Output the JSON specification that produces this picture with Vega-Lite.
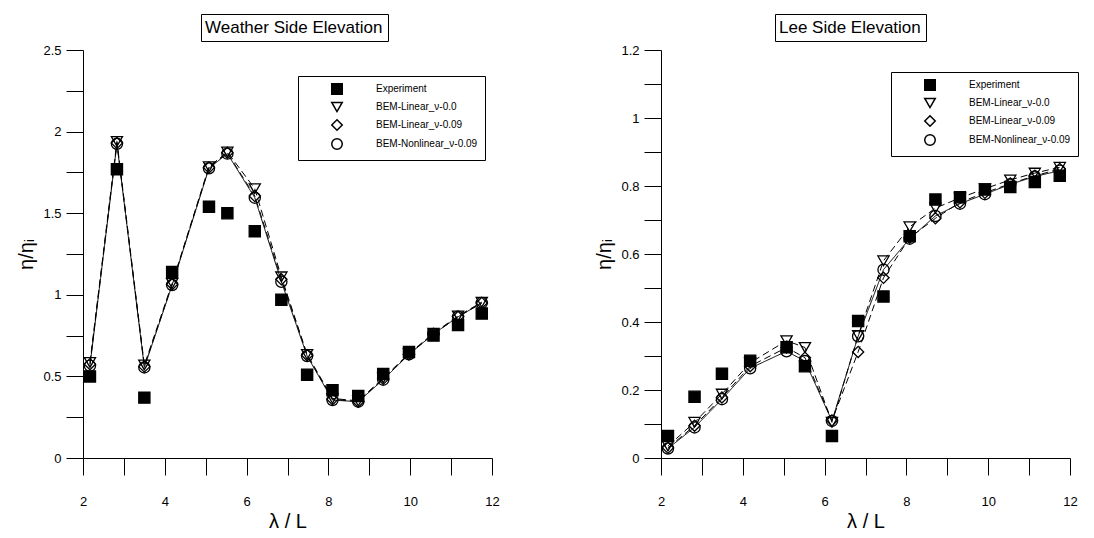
{
  "$schema": "https://vega.github.io/schema/vega-lite/v6.json",
  "padding": {"left": 16, "top": 13, "right": 5, "bottom": 0},
  "spacing": 94,
  "config": {
    "view": {"stroke": null},
    "axis": {"grid": false, "domainColor": "black", "tickColor": "black", "labelColor": "black", "titleColor": "black", "labelFont": "Liberation Sans", "titleFont": "Liberation Sans", "labelFontSize": 13, "titleFontSize": 20, "titleFontWeight": "normal", "labelFlush": false, "labelOverlap": false, "domainWidth": 1, "tickWidth": 1, "tickSize": 17}
  },
  "datasets": {
    "weather": [
      {"x": 2.17, "y": 0.5, "series": "Experiment"}, {"x": 2.83, "y": 1.77, "series": "Experiment"}, {"x": 3.5, "y": 0.37, "series": "Experiment"}, {"x": 4.18, "y": 1.14, "series": "Experiment"}, {"x": 5.08, "y": 1.54, "series": "Experiment"}, {"x": 5.53, "y": 1.5, "series": "Experiment"}, {"x": 6.2, "y": 1.39, "series": "Experiment"}, {"x": 6.85, "y": 0.97, "series": "Experiment"}, {"x": 7.48, "y": 0.51, "series": "Experiment"}, {"x": 8.1, "y": 0.415, "series": "Experiment"}, {"x": 8.73, "y": 0.38, "series": "Experiment"}, {"x": 9.34, "y": 0.515, "series": "Experiment"}, {"x": 9.97, "y": 0.65, "series": "Experiment"}, {"x": 10.57, "y": 0.75, "series": "Experiment"}, {"x": 11.17, "y": 0.815, "series": "Experiment"}, {"x": 11.75, "y": 0.885, "series": "Experiment"},
      {"x": 2.17, "y": 0.585, "series": "BEM-Linear_ν-0.0"}, {"x": 2.83, "y": 1.94, "series": "BEM-Linear_ν-0.0"}, {"x": 3.5, "y": 0.57, "series": "BEM-Linear_ν-0.0"}, {"x": 4.18, "y": 1.07, "series": "BEM-Linear_ν-0.0"}, {"x": 5.08, "y": 1.785, "series": "BEM-Linear_ν-0.0"}, {"x": 5.53, "y": 1.875, "series": "BEM-Linear_ν-0.0"}, {"x": 6.2, "y": 1.65, "series": "BEM-Linear_ν-0.0"}, {"x": 6.85, "y": 1.11, "series": "BEM-Linear_ν-0.0"}, {"x": 7.48, "y": 0.635, "series": "BEM-Linear_ν-0.0"}, {"x": 8.1, "y": 0.365, "series": "BEM-Linear_ν-0.0"}, {"x": 8.73, "y": 0.35, "series": "BEM-Linear_ν-0.0"}, {"x": 9.34, "y": 0.49, "series": "BEM-Linear_ν-0.0"}, {"x": 9.97, "y": 0.64, "series": "BEM-Linear_ν-0.0"}, {"x": 10.57, "y": 0.765, "series": "BEM-Linear_ν-0.0"}, {"x": 11.17, "y": 0.87, "series": "BEM-Linear_ν-0.0"}, {"x": 11.75, "y": 0.955, "series": "BEM-Linear_ν-0.0"},
      {"x": 2.17, "y": 0.575, "series": "BEM-Linear_ν-0.09"}, {"x": 2.83, "y": 1.93, "series": "BEM-Linear_ν-0.09"}, {"x": 3.5, "y": 0.56, "series": "BEM-Linear_ν-0.09"}, {"x": 4.18, "y": 1.065, "series": "BEM-Linear_ν-0.09"}, {"x": 5.08, "y": 1.78, "series": "BEM-Linear_ν-0.09"}, {"x": 5.53, "y": 1.87, "series": "BEM-Linear_ν-0.09"}, {"x": 6.2, "y": 1.605, "series": "BEM-Linear_ν-0.09"}, {"x": 6.85, "y": 1.095, "series": "BEM-Linear_ν-0.09"}, {"x": 7.48, "y": 0.63, "series": "BEM-Linear_ν-0.09"}, {"x": 8.1, "y": 0.36, "series": "BEM-Linear_ν-0.09"}, {"x": 8.73, "y": 0.345, "series": "BEM-Linear_ν-0.09"}, {"x": 9.34, "y": 0.485, "series": "BEM-Linear_ν-0.09"}, {"x": 9.97, "y": 0.635, "series": "BEM-Linear_ν-0.09"}, {"x": 10.57, "y": 0.76, "series": "BEM-Linear_ν-0.09"}, {"x": 11.17, "y": 0.865, "series": "BEM-Linear_ν-0.09"}, {"x": 11.75, "y": 0.95, "series": "BEM-Linear_ν-0.09"},
      {"x": 2.17, "y": 0.565, "series": "BEM-Nonlinear_ν-0.09"}, {"x": 2.83, "y": 1.925, "series": "BEM-Nonlinear_ν-0.09"}, {"x": 3.5, "y": 0.555, "series": "BEM-Nonlinear_ν-0.09"}, {"x": 4.18, "y": 1.06, "series": "BEM-Nonlinear_ν-0.09"}, {"x": 5.08, "y": 1.775, "series": "BEM-Nonlinear_ν-0.09"}, {"x": 5.53, "y": 1.865, "series": "BEM-Nonlinear_ν-0.09"}, {"x": 6.2, "y": 1.595, "series": "BEM-Nonlinear_ν-0.09"}, {"x": 6.85, "y": 1.08, "series": "BEM-Nonlinear_ν-0.09"}, {"x": 7.48, "y": 0.625, "series": "BEM-Nonlinear_ν-0.09"}, {"x": 8.1, "y": 0.355, "series": "BEM-Nonlinear_ν-0.09"}, {"x": 8.73, "y": 0.345, "series": "BEM-Nonlinear_ν-0.09"}, {"x": 9.34, "y": 0.48, "series": "BEM-Nonlinear_ν-0.09"}, {"x": 9.97, "y": 0.635, "series": "BEM-Nonlinear_ν-0.09"}, {"x": 10.57, "y": 0.76, "series": "BEM-Nonlinear_ν-0.09"}, {"x": 11.17, "y": 0.865, "series": "BEM-Nonlinear_ν-0.09"}, {"x": 11.75, "y": 0.95, "series": "BEM-Nonlinear_ν-0.09"}
    ],
    "lee": [
      {"x": 2.17, "y": 0.065, "series": "Experiment"}, {"x": 2.82, "y": 0.18, "series": "Experiment"}, {"x": 3.49, "y": 0.248, "series": "Experiment"}, {"x": 4.18, "y": 0.286, "series": "Experiment"}, {"x": 5.07, "y": 0.326, "series": "Experiment"}, {"x": 5.52, "y": 0.27, "series": "Experiment"}, {"x": 6.18, "y": 0.065, "series": "Experiment"}, {"x": 6.82, "y": 0.403, "series": "Experiment"}, {"x": 7.44, "y": 0.475, "series": "Experiment"}, {"x": 8.08, "y": 0.652, "series": "Experiment"}, {"x": 8.71, "y": 0.76, "series": "Experiment"}, {"x": 9.31, "y": 0.767, "series": "Experiment"}, {"x": 9.92, "y": 0.79, "series": "Experiment"}, {"x": 10.54, "y": 0.797, "series": "Experiment"}, {"x": 11.14, "y": 0.812, "series": "Experiment"}, {"x": 11.75, "y": 0.83, "series": "Experiment"},
      {"x": 2.17, "y": 0.035, "series": "BEM-Linear_ν-0.0"}, {"x": 2.82, "y": 0.105, "series": "BEM-Linear_ν-0.0"}, {"x": 3.49, "y": 0.188, "series": "BEM-Linear_ν-0.0"}, {"x": 4.18, "y": 0.28, "series": "BEM-Linear_ν-0.0"}, {"x": 5.07, "y": 0.345, "series": "BEM-Linear_ν-0.0"}, {"x": 5.52, "y": 0.325, "series": "BEM-Linear_ν-0.0"}, {"x": 6.18, "y": 0.105, "series": "BEM-Linear_ν-0.0"}, {"x": 6.82, "y": 0.36, "series": "BEM-Linear_ν-0.0"}, {"x": 7.44, "y": 0.58, "series": "BEM-Linear_ν-0.0"}, {"x": 8.08, "y": 0.68, "series": "BEM-Linear_ν-0.0"}, {"x": 8.71, "y": 0.735, "series": "BEM-Linear_ν-0.0"}, {"x": 9.31, "y": 0.765, "series": "BEM-Linear_ν-0.0"}, {"x": 9.92, "y": 0.792, "series": "BEM-Linear_ν-0.0"}, {"x": 10.54, "y": 0.818, "series": "BEM-Linear_ν-0.0"}, {"x": 11.14, "y": 0.838, "series": "BEM-Linear_ν-0.0"}, {"x": 11.75, "y": 0.855, "series": "BEM-Linear_ν-0.0"},
      {"x": 2.17, "y": 0.03, "series": "BEM-Linear_ν-0.09"}, {"x": 2.82, "y": 0.095, "series": "BEM-Linear_ν-0.09"}, {"x": 3.49, "y": 0.178, "series": "BEM-Linear_ν-0.09"}, {"x": 4.18, "y": 0.27, "series": "BEM-Linear_ν-0.09"}, {"x": 5.07, "y": 0.325, "series": "BEM-Linear_ν-0.09"}, {"x": 5.52, "y": 0.295, "series": "BEM-Linear_ν-0.09"}, {"x": 6.18, "y": 0.11, "series": "BEM-Linear_ν-0.09"}, {"x": 6.82, "y": 0.312, "series": "BEM-Linear_ν-0.09"}, {"x": 7.44, "y": 0.53, "series": "BEM-Linear_ν-0.09"}, {"x": 8.08, "y": 0.648, "series": "BEM-Linear_ν-0.09"}, {"x": 8.71, "y": 0.705, "series": "BEM-Linear_ν-0.09"}, {"x": 9.31, "y": 0.752, "series": "BEM-Linear_ν-0.09"}, {"x": 9.92, "y": 0.78, "series": "BEM-Linear_ν-0.09"}, {"x": 10.54, "y": 0.807, "series": "BEM-Linear_ν-0.09"}, {"x": 11.14, "y": 0.83, "series": "BEM-Linear_ν-0.09"}, {"x": 11.75, "y": 0.85, "series": "BEM-Linear_ν-0.09"},
      {"x": 2.17, "y": 0.028, "series": "BEM-Nonlinear_ν-0.09"}, {"x": 2.82, "y": 0.09, "series": "BEM-Nonlinear_ν-0.09"}, {"x": 3.49, "y": 0.173, "series": "BEM-Nonlinear_ν-0.09"}, {"x": 4.18, "y": 0.264, "series": "BEM-Nonlinear_ν-0.09"}, {"x": 5.07, "y": 0.314, "series": "BEM-Nonlinear_ν-0.09"}, {"x": 5.52, "y": 0.285, "series": "BEM-Nonlinear_ν-0.09"}, {"x": 6.18, "y": 0.109, "series": "BEM-Nonlinear_ν-0.09"}, {"x": 6.82, "y": 0.358, "series": "BEM-Nonlinear_ν-0.09"}, {"x": 7.44, "y": 0.554, "series": "BEM-Nonlinear_ν-0.09"}, {"x": 8.08, "y": 0.645, "series": "BEM-Nonlinear_ν-0.09"}, {"x": 8.71, "y": 0.712, "series": "BEM-Nonlinear_ν-0.09"}, {"x": 9.31, "y": 0.748, "series": "BEM-Nonlinear_ν-0.09"}, {"x": 9.92, "y": 0.776, "series": "BEM-Nonlinear_ν-0.09"}, {"x": 10.54, "y": 0.805, "series": "BEM-Nonlinear_ν-0.09"}, {"x": 11.14, "y": 0.828, "series": "BEM-Nonlinear_ν-0.09"}, {"x": 11.75, "y": 0.845, "series": "BEM-Nonlinear_ν-0.09"}
    ]
  },
  "resolve": {
    "scale": {"shape": "independent", "fill": "independent", "strokeDash": "independent", "stroke": "independent"},
    "legend": {"shape": "independent", "stroke": "independent", "fill": "independent", "strokeDash": "independent"}
  },
  "hconcat": [
    {
      "width": 409, "height": 408,
      "data": {"name": "weather"},
      "encoding": {
        "x": {"field": "x", "type": "quantitative", "scale": {"domain": [2, 12], "nice": false, "zero": false},
          "axis": {"title": "λ / L", "values": [2, 3, 4, 5, 6, 7, 8, 9, 10, 11, 12], "labelExpr": "datum.value % 2 === 0 ? format(datum.value, '~g') : ''", "labelPadding": 20, "titlePadding": 3,
            "encode": {"ticks": {"strokeDash": {"condition": {"test": "datum.value % 2 === 0", "value": [1, 0]}, "value": [9, 40]}}}}},
        "y": {"field": "y", "type": "quantitative", "scale": {"domain": [0, 2.5], "nice": false, "zero": false},
          "axis": {"title": "η/ηᵢ", "values": [0, 0.25, 0.5, 0.75, 1, 1.25, 1.5, 1.75, 2, 2.25, 2.5], "labelExpr": "datum.value % 0.5 === 0 ? format(datum.value, '~g') : ''", "labelPadding": 5, "titlePadding": 6,
            "encode": {"ticks": {"x2": {"condition": {"test": "datum.value % 0.5 === 0", "value": -17}, "value": -9}}}}}
      },
      "layer": [
        {
          "transform": [{"filter": "datum.series !== 'Experiment'"}],
          "mark": {"type": "line", "strokeWidth": 1},
          "encoding": {
            "strokeDash": {"field": "series", "type": "nominal", "scale": {"domain": ["BEM-Linear_ν-0.0", "BEM-Linear_ν-0.09", "BEM-Nonlinear_ν-0.09"], "range": [[7, 4], [7, 4], [1, 0]]}, "legend": null},
            "stroke": {"datum": "Weather Side Elevation", "type": "nominal", "scale": {"range": ["black"]},
              "legend": {"title": null, "orient": "none", "legendX": 118, "legendY": -36, "padding": 5, "symbolSize": 0, "symbolOpacity": 0, "symbolStrokeWidth": 0, "labelOffset": -18, "labelFont": "Liberation Sans", "labelFontSize": 17, "labelColor": "black", "labelLimit": 500, "strokeColor": "black", "fillColor": "white"}}
          }
        },
        {
          "mark": {"type": "point", "filled": true, "stroke": "black", "strokeWidth": 1.3, "size": 125, "opacity": 1},
          "encoding": {
            "shape": {"field": "series", "type": "nominal", "scale": {"domain": ["Experiment", "BEM-Linear_ν-0.0", "BEM-Linear_ν-0.09", "BEM-Nonlinear_ν-0.09"], "range": ["square", "triangle-down", "diamond", "circle"]},
              "legend": {"title": null, "orient": "none", "legendX": 215, "legendY": 26, "padding": 7, "rowPadding": 1, "symbolSize": 110, "symbolOffset": 26, "labelOffset": 33, "labelFont": "Liberation Sans", "labelFontSize": 10, "labelColor": "black", "labelLimit": 300, "strokeColor": "black", "fillColor": "white"}},
            "fill": {"field": "series", "type": "nominal", "scale": {"domain": ["Experiment", "BEM-Linear_ν-0.0", "BEM-Linear_ν-0.09", "BEM-Nonlinear_ν-0.09"], "range": ["black", "transparent", "transparent", "transparent"]}, "legend": null}
          }
        }
      ]
    },
    {
      "width": 409, "height": 408,
      "data": {"name": "lee"},
      "encoding": {
        "x": {"field": "x", "type": "quantitative", "scale": {"domain": [2, 12], "nice": false, "zero": false},
          "axis": {"title": "λ / L", "values": [2, 3, 4, 5, 6, 7, 8, 9, 10, 11, 12], "labelExpr": "datum.value % 2 === 0 ? format(datum.value, '~g') : ''", "labelPadding": 20, "titlePadding": 3,
            "encode": {"ticks": {"strokeDash": {"condition": {"test": "datum.value % 2 === 0", "value": [1, 0]}, "value": [9, 40]}}}}},
        "y": {"field": "y", "type": "quantitative", "scale": {"domain": [0, 1.2], "nice": false, "zero": false},
          "axis": {"title": "η/ηᵢ", "values": [0, 0.1, 0.2, 0.3, 0.4, 0.5, 0.6, 0.7, 0.8, 0.9, 1, 1.1, 1.2], "labelExpr": "(datum.value * 10 + 0.5) % 2 < 1 ? format(datum.value, '~g') : ''", "labelPadding": 5, "titlePadding": 6,
            "encode": {"ticks": {"x2": {"condition": {"test": "(datum.value * 10 + 0.5) % 2 < 1", "value": -17}, "value": -9}}}}}
      },
      "layer": [
        {
          "transform": [{"filter": "datum.series !== 'Experiment'"}],
          "mark": {"type": "line", "strokeWidth": 1},
          "encoding": {
            "strokeDash": {"field": "series", "type": "nominal", "scale": {"domain": ["BEM-Linear_ν-0.0", "BEM-Linear_ν-0.09", "BEM-Nonlinear_ν-0.09"], "range": [[7, 4], [7, 4], [1, 0]]}, "legend": null},
            "stroke": {"datum": "Lee Side Elevation", "type": "nominal", "scale": {"range": ["black"]},
              "legend": {"title": null, "orient": "none", "legendX": 114, "legendY": -36, "padding": 5, "symbolSize": 0, "symbolOpacity": 0, "symbolStrokeWidth": 0, "labelOffset": -18, "labelFont": "Liberation Sans", "labelFontSize": 17, "labelColor": "black", "labelLimit": 500, "strokeColor": "black", "fillColor": "white"}}
          }
        },
        {
          "mark": {"type": "point", "filled": true, "stroke": "black", "strokeWidth": 1.3, "size": 125, "opacity": 1},
          "encoding": {
            "shape": {"field": "series", "type": "nominal", "scale": {"domain": ["Experiment", "BEM-Linear_ν-0.0", "BEM-Linear_ν-0.09", "BEM-Nonlinear_ν-0.09"], "range": ["square", "triangle-down", "diamond", "circle"]},
              "legend": {"title": null, "orient": "none", "legendX": 230, "legendY": 22, "padding": 7, "rowPadding": 1, "symbolSize": 110, "symbolOffset": 26, "labelOffset": 33, "labelFont": "Liberation Sans", "labelFontSize": 10, "labelColor": "black", "labelLimit": 300, "strokeColor": "black", "fillColor": "white"}},
            "fill": {"field": "series", "type": "nominal", "scale": {"domain": ["Experiment", "BEM-Linear_ν-0.0", "BEM-Linear_ν-0.09", "BEM-Nonlinear_ν-0.09"], "range": ["black", "transparent", "transparent", "transparent"]}, "legend": null}
          }
        }
      ]
    }
  ]
}
